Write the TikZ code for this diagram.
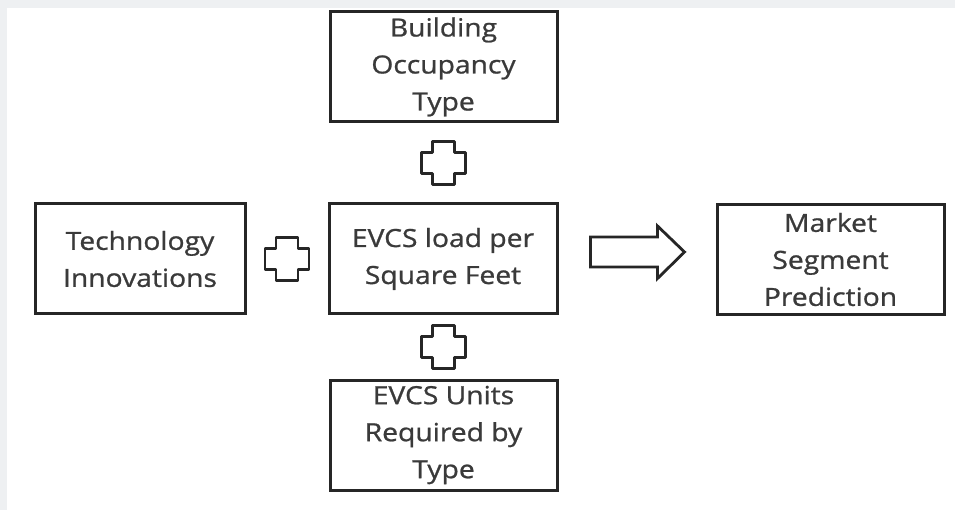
\documentclass[tikz,border=0pt]{standalone}
\usepackage{fontspec}
\setmainfont{Open Sans}[FakeStretch=1.13, FakeBold=0.9]
\usetikzlibrary{calc}
\definecolor{frameGray}{HTML}{EEF0F2}
\definecolor{lineDark}{HTML}{262626}
\definecolor{textGray}{HTML}{3A3A3A}
\tikzset{
	block/.style={draw=lineDark, line width=3pt, minimum width=227pt, minimum height=110pt,
		inner sep=0pt, align=center, text=textGray, font=\fontsize{25}{37}\selectfont},
	plussign/.pic={
		\draw[lineDark, line width=2.8pt, line join=round] (-11,-21.5) -- ++(22,0) -- ++(0,11) -- ++(11,0) -- ++(0,21)
			-- ++(-11,0) -- ++(0,11) -- ++(-22,0) -- ++(0,-11) -- ++(-11,0) -- ++(0,-21) -- ++(11,0) -- cycle;
	}
}

\begin{document}
\begin{tikzpicture}[x=1pt, y=-1pt]
	\useasboundingbox (0,0) rectangle (955,510);
	\fill[frameGray] (0,0) rectangle (955,510);
	\fill[white] (7,8) rectangle (955,510);

	\node[block] (occupancy) at (443.5,67) {Building\\Occupancy\\Type};
	\node[block, minimum width=210pt] (innovation) at (140,259) {Technology\\Innovations};
	\node[block, minimum width=228pt] (load) at (443,259) {EVCS load per\\Square Feet};
	\node[block] (market) at (830.5,259.5) {Market\\Segment\\Prediction};
	\node[block] (units) at (443.5,435) {EVCS Units\\Required by\\Type};

	\pic at ($(occupancy.south)!0.5!(load.north)$) {plussign};
	\pic at ($(innovation.east)!0.5!(load.west)$) {plussign};
	\pic at ($(load.south)!0.5!(units.north)$) {plussign};

	\coordinate (arrowStart) at ($(load.east)+(32,-7)$);
	\draw[lineDark, line width=2.8pt, line join=miter] ($(arrowStart)+(0,-15)$) -- ++(67,0) -- ++(0,-11)
		-- ($(arrowStart)+(94,0)$) -- ($(arrowStart)+(67,26.5)$) -- ++(0,-11.5) -- ++(-67,0) -- cycle;
\end{tikzpicture}
\end{document}
